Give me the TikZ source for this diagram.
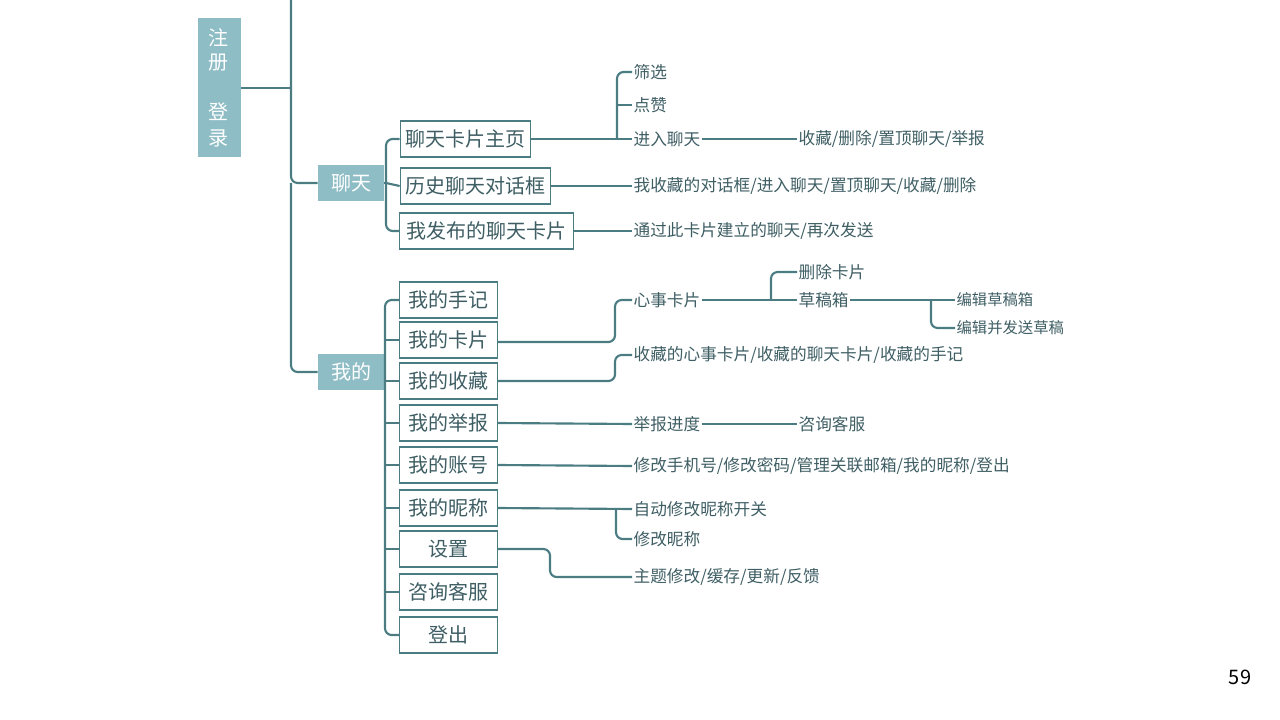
\documentclass[tikz,border=0pt]{standalone}
\usepackage{fontspec}
\setmainfont{Noto Sans CJK SC}
\newfontfamily\cjk{Noto Sans CJK SC}
\definecolor{ln}{HTML}{4A7C82}
\definecolor{bx}{HTML}{8FBDC5}
\definecolor{tx}{HTML}{3E5E64}
\begin{document}
\begin{tikzpicture}[x=0.75pt,y=-0.75pt,
  conn/.style={draw=ln,line width=1.6pt,rounded corners=5pt},
  main/.style={fill=bx,text=white,font=\cjk\fontsize{15}{18}\selectfont,inner sep=0,minimum height=27pt},
  box/.style={draw=ln,line width=0.8pt,fill=white,text=tx,font=\cjk\fontsize{15}{18}\selectfont,inner sep=0,minimum height=27pt},
  leaf/.style={anchor=west,text=tx,font=\cjk\fontsize{12.5}{15}\selectfont,inner sep=1pt}]
\useasboundingbox (0,0) rectangle (1280,720);
% root
\node[main,minimum width=32pt,minimum height=104pt] (reg) at (219.5,87.5) {};
\node[text=white,font=\cjk\fontsize{15}{18}\selectfont,inner sep=0] (r1) at (218,38) {注};
\node[text=white,font=\cjk\fontsize{15}{18}\selectfont,inner sep=0] (r2) at (218,63) {册};
\node[text=white,font=\cjk\fontsize{15}{18}\selectfont,inner sep=0] (r3) at (218,112) {登};
\node[text=white,font=\cjk\fontsize{15}{18}\selectfont,inner sep=0] (r4) at (218,138) {录};
\coordinate (top) at (291,0);
\node[main,minimum width=49.5pt] (chat) at (351,183) {聊天};
\node[main,minimum width=49.5pt] (me) at (351,372) {我的};
\draw[conn] (reg.east |- 0,88) -- (291,88);
\draw[conn] (top) -- (291,88) -- (291,183) -- (chat.west);
\draw[conn] (291,183) -- (291,372) -- (me.west);
% chat children
\node[box,minimum width=98pt] (c1) at (465.5,139) {聊天卡片主页};
\node[box,minimum width=113pt] (c2) at (475.5,186) {历史聊天对话框};
\node[box,minimum width=130pt] (c3) at (486.5,231) {我发布的聊天卡片};
\draw[conn] (chat.east) -- (386,183);
\draw[conn] (386,183) -- (386,139) -- (c1.west);
\draw[conn] (386,183) -- (c2.west);
\draw[conn] (386,183) -- (386,231) -- (c3.west);
\node[leaf] (l1) at (632,72) {筛选};
\node[leaf] (l2) at (632,105) {点赞};
\node[leaf] (l3) at (632,139) {进入聊天};
\node[leaf] (l4) at (797,139) {收藏/删除/置顶聊天/举报};
\node[leaf] (l5) at (632,186) {我收藏的对话框/进入聊天/置顶聊天/收藏/删除};
\node[leaf] (l6) at (632,231) {通过此卡片建立的聊天/再次发送};
\draw[conn] (c1.east) -- (l3.west);
\draw[conn] (617,139) -- (617,72) -- (l1.west);
\draw[conn] (617,105) -- (l2.west);
\draw[conn] (l3.east) -- (l4.west);
\draw[conn] (c2.east) -- (l5.west);
\draw[conn] (c3.east) -- (l6.west);
% me children
\foreach \n/\t/\y in {m1/我的手记/300,m2/我的卡片/340,m3/我的收藏/381,m4/我的举报/423,m5/我的账号/465,m6/我的昵称/508,m7/设置/549,m8/咨询客服/592,m9/登出/635}
  \node[box,minimum width=73pt] (\n) at (448.5,\y) {\t};
\draw[conn] (me.east) -- (385,372);
\draw[conn] (385,372) -- (385,300) -- (m1.west);
\draw[conn] (385,372) -- (385,635) -- (m9.west);
\foreach \n in {m2,m3,m4,m5,m6,m7,m8}
  \draw[conn] (385,0 |- \n.west) -- (\n.west);
\node[leaf] (k1) at (632,300) {心事卡片};
\node[leaf] (k2) at (797,272) {删除卡片};
\node[leaf] (k3) at (797,300) {草稿箱};
\node[leaf,font=\cjk\fontsize{11.5}{14}\selectfont] (k4) at (955,300) {编辑草稿箱};
\node[leaf,font=\cjk\fontsize{11.5}{14}\selectfont] (k5) at (955,328) {编辑并发送草稿};
\node[leaf] (k6) at (632,355) {收藏的心事卡片/收藏的聊天卡片/收藏的手记};
\node[leaf] (k7) at (632,424) {举报进度};
\node[leaf] (k8) at (797,424) {咨询客服};
\node[leaf] (k9) at (632,466) {修改手机号/修改密码/管理关联邮箱/我的昵称/登出};
\node[leaf] (k10) at (632,509) {自动修改昵称开关};
\node[leaf] (k11) at (632,539) {修改昵称};
\node[leaf] (k12) at (632,577) {主题修改/缓存/更新/反馈};
\draw[conn] (m2.east |- 0,342) -- (615,342) -- (615,300) -- (k1.west);
\draw[conn] (k1.east) -- (k3.west);
\draw[conn] (771,300) -- (771,272) -- (k2.west);
\draw[conn] (k3.east) -- (k4.west);
\draw[conn] (931,300) -- (931,328) -- (k5.west);
\draw[conn] (m3.east) -- (615,381) -- (615,355) -- (k6.west);
\draw[conn] (m4.east) -- (k7.west);
\draw[conn] (k7.east) -- (k8.west);
\draw[conn] (m5.east) -- (k9.west);
\draw[conn] (m6.east) -- (k10.west);
\draw[conn] (616,509) -- (616,539) -- (k11.west);
\draw[conn] (m7.east) -- (550,549) -- (550,577) -- (k12.west);
\node[font=\fontsize{15}{18}\selectfont,inner sep=0] (pg) at (1240,677) {59};
\end{tikzpicture}
\end{document}
